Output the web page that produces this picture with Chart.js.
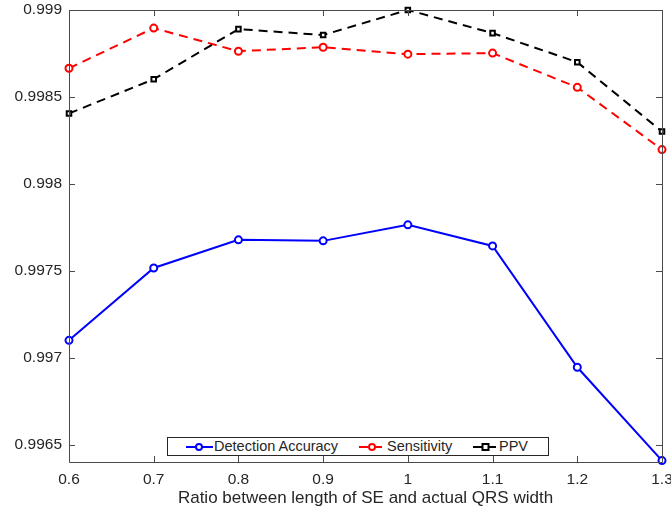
<!DOCTYPE html>
<html>
<head>
<meta charset="utf-8">
<script src="https://cdn.jsdelivr.net/npm/chart.js@4.4.1/dist/chart.umd.min.js"></script>
<style>
  html, body { margin: 0; padding: 0; background: #fff; }
  #wrap { position: relative; width: 671px; height: 514px; }
  #grafico { display: block; }
  .legenda {
    position: absolute; left: 167px; top: 437px; width: 382px; height: 19px;
    border: 1px solid #262626; background: #fff; box-sizing: border-box;
    font: 14.5px "Liberation Sans", Arial, sans-serif; color: #262626;
    white-space: nowrap;
  }
  .legenda span { position: absolute; top: 0; line-height: 17px; }
  .legenda svg { position: absolute; top: 2px; }
</style>
</head>
<body>
<div id="wrap">
  <canvas id="grafico" width="671" height="514"></canvas>
  <div class="legenda">
    <svg style="left:18px" width="28" height="14">
      <line x1="0" y1="7" x2="27" y2="7" stroke="#0000ff" stroke-width="2"/>
      <circle cx="13" cy="7" r="3" fill="#fff" stroke="#0000ff" stroke-width="2"/>
    </svg>
    <span style="left:46px">Detection Accuracy</span>
    <svg style="left:191px" width="28" height="14">
      <line x1="0" y1="7" x2="27" y2="7" stroke="#ff0000" stroke-width="2" stroke-dasharray="9,5"/>
      <circle cx="13" cy="7" r="3" fill="#fff" stroke="#ff0000" stroke-width="2"/>
    </svg>
    <span style="left:219px">Sensitivity</span>
    <svg style="left:305px" width="26" height="14">
      <line x1="0" y1="7" x2="25" y2="7" stroke="#000" stroke-width="2" stroke-dasharray="9,5"/>
      <rect x="9.5" y="4" width="6" height="6" fill="#fff" stroke="#000" stroke-width="2"/>
    </svg>
    <span style="left:331px">PPV</span>
  </div>
</div>
<script>
  // razão entre comprimento do SE e largura real do QRS
  const razoes = [0.6, 0.7, 0.8, 0.9, 1.0, 1.1, 1.2, 1.3];
  const acuracia = [0.99710, 0.997516, 0.997678, 0.997672, 0.997764, 0.997643, 0.996945, 0.996408];
  const sensibilidade = [0.998665, 0.998896, 0.998763, 0.998786, 0.998746, 0.998752, 0.998555, 0.998197];
  const ppv = [0.998405, 0.998602, 0.99889, 0.998856, 0.999, 0.998867, 0.998700, 0.998301];
  const ticksY = [0.9965, 0.997, 0.9975, 0.998, 0.9985, 0.999];
  const ticksX = [0.6, 0.7, 0.8, 0.9, 1.0, 1.1, 1.2, 1.3];

  const corEixo = "#262626";
  const fonte = { family: "'Liberation Sans', Arial, sans-serif", size: 15.5 };

  function pontos(vals) {
    return razoes.map((x, i) => ({ x, y: vals[i] }));
  }

  // caixa dos eixos com marcas para dentro, estilo MATLAB
  const caixaEixos = {
    id: "caixaEixos",
    afterDraw(chart) {
      const { ctx, chartArea: a, scales } = chart;
      const tam = 6;
      ctx.save();
      ctx.strokeStyle = "#4a4a4a";
      ctx.lineWidth = 1;
      ctx.beginPath();
      ctx.rect(Math.round(a.left) + 0.5, Math.round(a.top) + 0.5,
        Math.round(a.right - a.left), Math.round(a.bottom - a.top));
      ticksX.forEach((v) => {
        const px = Math.round(scales.x.getPixelForValue(v)) + 0.5;
        ctx.moveTo(px, a.bottom); ctx.lineTo(px, a.bottom - tam);
        ctx.moveTo(px, a.top); ctx.lineTo(px, a.top + tam);
      });
      ticksY.forEach((v) => {
        const py = Math.round(scales.y.getPixelForValue(v)) + 0.5;
        ctx.moveTo(a.left, py); ctx.lineTo(a.left + tam, py);
        ctx.moveTo(a.right, py); ctx.lineTo(a.right - tam, py);
      });
      ctx.stroke();
      ctx.restore();
    },
  };

  new Chart(document.getElementById("grafico").getContext("2d"), {
    type: "line",
    data: {
      datasets: [
        {
          label: "Detection Accuracy",
          data: pontos(acuracia),
          borderColor: "#0000ff",
          backgroundColor: "#ffffff",
          borderWidth: 2,
          pointRadius: 3.5,
          pointBorderWidth: 2,
          order: 3,
        },
        {
          label: "Sensitivity",
          data: pontos(sensibilidade),
          borderColor: "#ff0000",
          backgroundColor: "#ffffff",
          borderWidth: 2,
          borderDash: [9, 6],
          pointRadius: 3.5,
          pointBorderWidth: 2,
          order: 2,
        },
        {
          label: "PPV",
          data: pontos(ppv),
          borderColor: "#000000",
          backgroundColor: "#ffffff",
          borderWidth: 2,
          borderDash: [9, 6],
          pointStyle: "rect",
          pointRadius: 3.2,
          pointBorderWidth: 2,
          order: 1,
        },
      ],
    },
    options: {
      responsive: false,
      animation: false,
      clip: false,
      layout: { padding: { top: 10, right: 9, left: 0, bottom: 0 } },
      plugins: { legend: { display: false }, tooltip: { enabled: false } },
      scales: {
        x: {
          type: "linear",
          min: 0.6,
          max: 1.3,
          afterBuildTicks: (s) => { s.ticks = ticksX.map((value) => ({ value })); },
          afterFit: (s) => { s.height = 52; s.paddingLeft = 0; s.paddingRight = 0; },
          grid: { display: false, drawTicks: false },
          border: { display: false },
          ticks: {
            color: corEixo,
            font: fonte,
            padding: 8,
            maxRotation: 0,
            callback: (v) => String(+v.toFixed(1)),
          },
          title: {
            display: true,
            text: "Ratio between length of SE and actual QRS width",
            color: corEixo,
            font: { family: fonte.family, size: 17 },
            padding: { top: 2, bottom: 5 },
          },
        },
        y: {
          min: 0.99640,
          max: 0.999,
          afterBuildTicks: (s) => { s.ticks = ticksY.map((value) => ({ value })); },
          afterFit: (s) => { s.width = 69; s.paddingTop = 0; s.paddingBottom = 0; },
          grid: { display: false, drawTicks: false },
          border: { display: false },
          ticks: {
            color: corEixo,
            font: fonte,
            padding: 7,
            callback: (v) => String(+v.toFixed(4)),
          },
        },
      },
    },
    plugins: [caixaEixos],
  });
</script>
</body>
</html>
